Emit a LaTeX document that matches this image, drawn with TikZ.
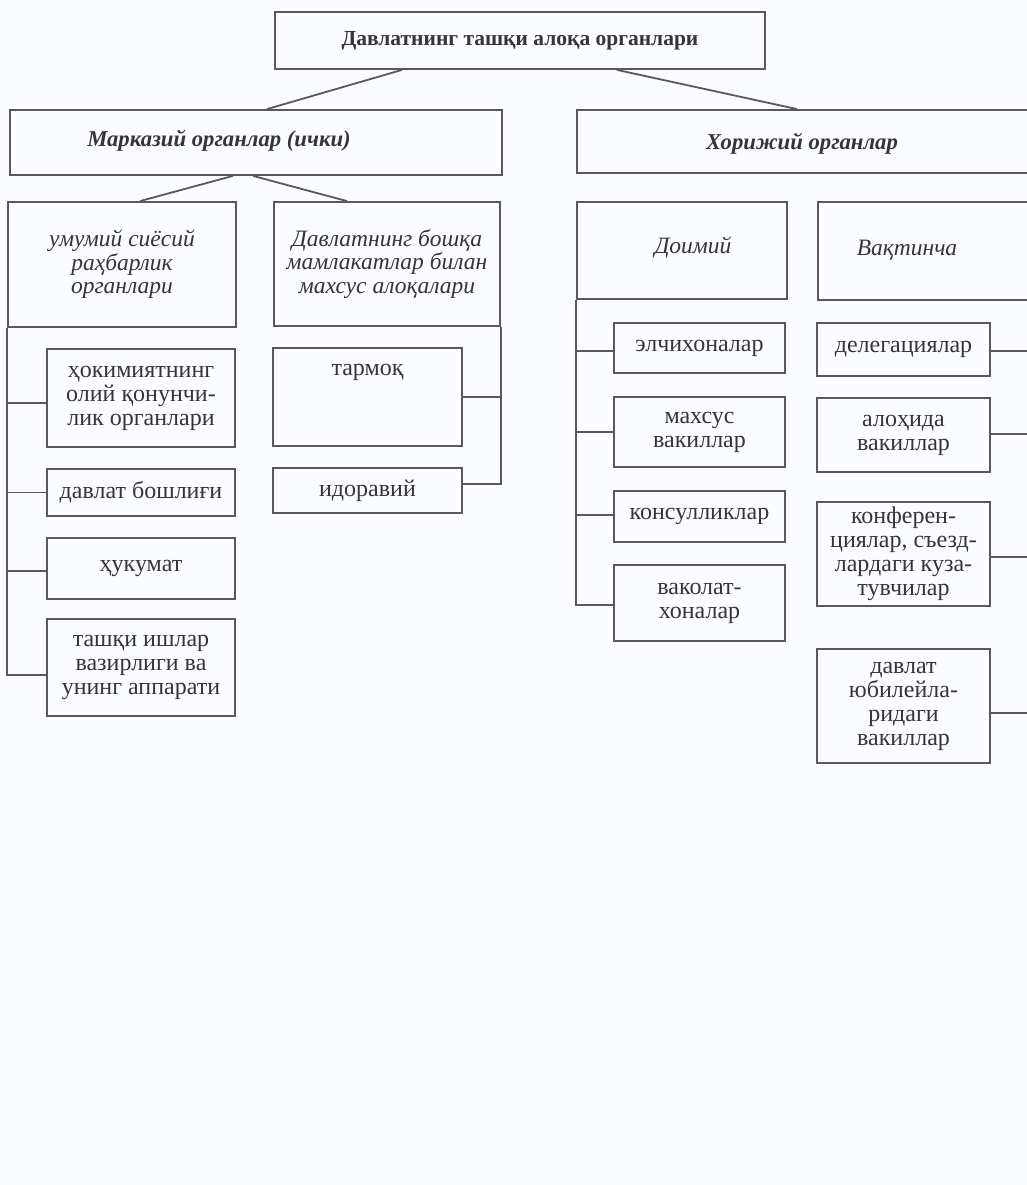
\documentclass[tikz,border=0pt]{standalone}
\usepackage{fontspec}
\setmainfont{Liberation Serif}
\definecolor{linec}{RGB}{88,88,94}
\definecolor{textc}{RGB}{52,52,58}
\definecolor{paper}{RGB}{251,252,254}
\tikzset{
  box/.style 2 args={draw=linec, line width=1.8pt, inner sep=0pt,
    minimum width=#1, minimum height=#2, align=center, text=textc,
    font=\fontsize{24}{24}\selectfont},
  txt/.style={inner sep=0pt, align=center, text=textc,
    font=\fontsize{24}{24}\selectfont},
  ital/.style={font=\fontsize{23.5}{23.5}\selectfont\itshape},
  bitl/.style={font=\fontsize{22.7}{23}\selectfont\bfseries\itshape},
  conn/.style={draw=linec, line width=1.8pt}
}
\begin{document}
\begin{tikzpicture}[x=1pt,y=-1pt]
\useasboundingbox (0,0) rectangle (1027,1185);
\fill[paper] (0,0) rectangle (1027,1185);

% top level
\node[box={490pt}{57pt}, font=\fontsize{21.5}{23}\selectfont\bfseries] (top) at (520,40.5) {Давлатнинг ташқи алоқа органлари};

% second level
\node[box={492pt}{65pt}] (mark) at (256,142.5) {};
\node[txt, bitl] (markt) at ([xshift=-37pt,yshift=2pt]mark.center) {Марказий органлар (ички)};
\node[box={463pt}{63pt}] (hor) at (808.5,141.5) {};
\node[txt, bitl] (hort) at (802,144) {Хорижий органлар};

% third level, left
\node[box={228pt}{125pt}, ital] (g1) at (122,264.5) {умумий сиёсий\\раҳбарлик\\органлари};
\node[box={226pt}{124pt}, ital] (g2) at (387,264) {Давлатнинг бошқа\\мамлакатлар билан\\махсус алоқалари};

% third level, right
\node[box={210pt}{97pt}] (d) at (682,250.5) {};
\node[txt, ital] (dt) at (693,248) {Доимий};
\node[box={222pt}{98pt}] (v) at (929,251) {};
\node[txt, ital] (vt) at (907,250) {Вақтинча};

% left column under g1
\node[box={188pt}{98pt}] (s1) at (141,398) {ҳокимиятнинг\\олий қонунчи-\\лик органлари};
\node[box={188pt}{47pt}] (s2) at (141,492.5) {давлат бошлиғи};
\node[box={188pt}{61pt}] (s3) at (141,568.5) {ҳукумат};
\node[box={188pt}{97pt}] (s4) at (141,667.5) {ташқи ишлар\\вазирлиги ва\\унинг аппарати};

% column under g2
\node[box={189pt}{98pt}] (t1) at (367.5,397) {};
\node[txt] (t1t) at ([yshift=-25pt]t1.north) {тармоқ};
\node[box={189pt}{45pt}] (t2) at (367.5,490.5) {идоравий};

% column under d
\node[box={171pt}{50pt}] (e1) at (699.5,348) {элчихоналар};
\node[box={171pt}{70pt}] (e2) at (699.5,432) {махсус\\вакиллар};
\node[box={171pt}{51pt}] (e3) at (699.5,516.5) {консулликлар};
\node[box={171pt}{76pt}] (e4) at (699.5,603) {ваколат-\\хоналар};

% column under v
\node[box={173pt}{53pt}] (v1) at (903.5,349.5) {делегациялар};
\node[box={173pt}{74pt}] (v2) at (903.5,435) {алоҳида\\вакиллар};
\node[box={173pt}{104pt}] (v3) at (903.5,554) {конферен-\\циялар, съезд-\\лардаги куза-\\тувчилар};
\node[box={173pt}{114pt}] (v4) at (903.5,706) {давлат\\юбилейла-\\ридаги\\вакиллар};

% attachment points
\coordinate (s1w) at ([yshift=-5pt]s1.west);
\coordinate (s3w) at ([yshift=-2.5pt]s3.west);
\coordinate (s4w) at ([yshift=-7.5pt]s4.west);
\coordinate (t2e) at ([yshift=6.5pt]t2.east);
\coordinate (e1w) at ([yshift=-3pt]e1.west);
\coordinate (e3w) at ([yshift=1.5pt]e3.west);
\coordinate (e4w) at ([yshift=-2pt]e4.west);
\coordinate (v1e) at ([yshift=-1.5pt]v1.east);
\coordinate (v2e) at ([yshift=1pt]v2.east);
\coordinate (v3e) at ([yshift=-3pt]v3.east);
\coordinate (v4e) at ([yshift=-7pt]v4.east);

% connectors between levels
\draw[conn] ([xshift=-118pt]top.south) -- ([xshift=11pt]mark.north);
\draw[conn] ([xshift=97pt]top.south) -- ([xshift=-11.5pt]hor.north);
\draw[conn] ([xshift=-23pt]mark.south) -- ([xshift=18pt]g1.north);
\draw[conn] ([xshift=-3pt]mark.south) -- ([xshift=-40pt]g2.north);

% left bracket
\draw[conn] (g1.south west) |- (s4w);
\draw[conn] (g1.south west |- s1w) -- (s1w);
\draw[conn] (g1.south west |- s2.west) -- (s2.west);
\draw[conn] (g1.south west |- s3w) -- (s3w);

% g2 bracket
\draw[conn] (g2.south east) |- (t2e);
\draw[conn] (g2.south east |- t1.east) -- (t1.east);

% d bracket
\draw[conn] (d.south west) |- (e4w);
\draw[conn] (d.south west |- e1w) -- (e1w);
\draw[conn] (d.south west |- e2.west) -- (e2.west);
\draw[conn] (d.south west |- e3w) -- (e3w);

% v bracket (its vertical runs beyond the cut right edge)
\draw[conn] (v.south east) |- (v4e);
\draw[conn] (v.south east |- v1e) -- (v1e);
\draw[conn] (v.south east |- v2e) -- (v2e);
\draw[conn] (v.south east |- v3e) -- (v3e);
\end{tikzpicture}
\end{document}
